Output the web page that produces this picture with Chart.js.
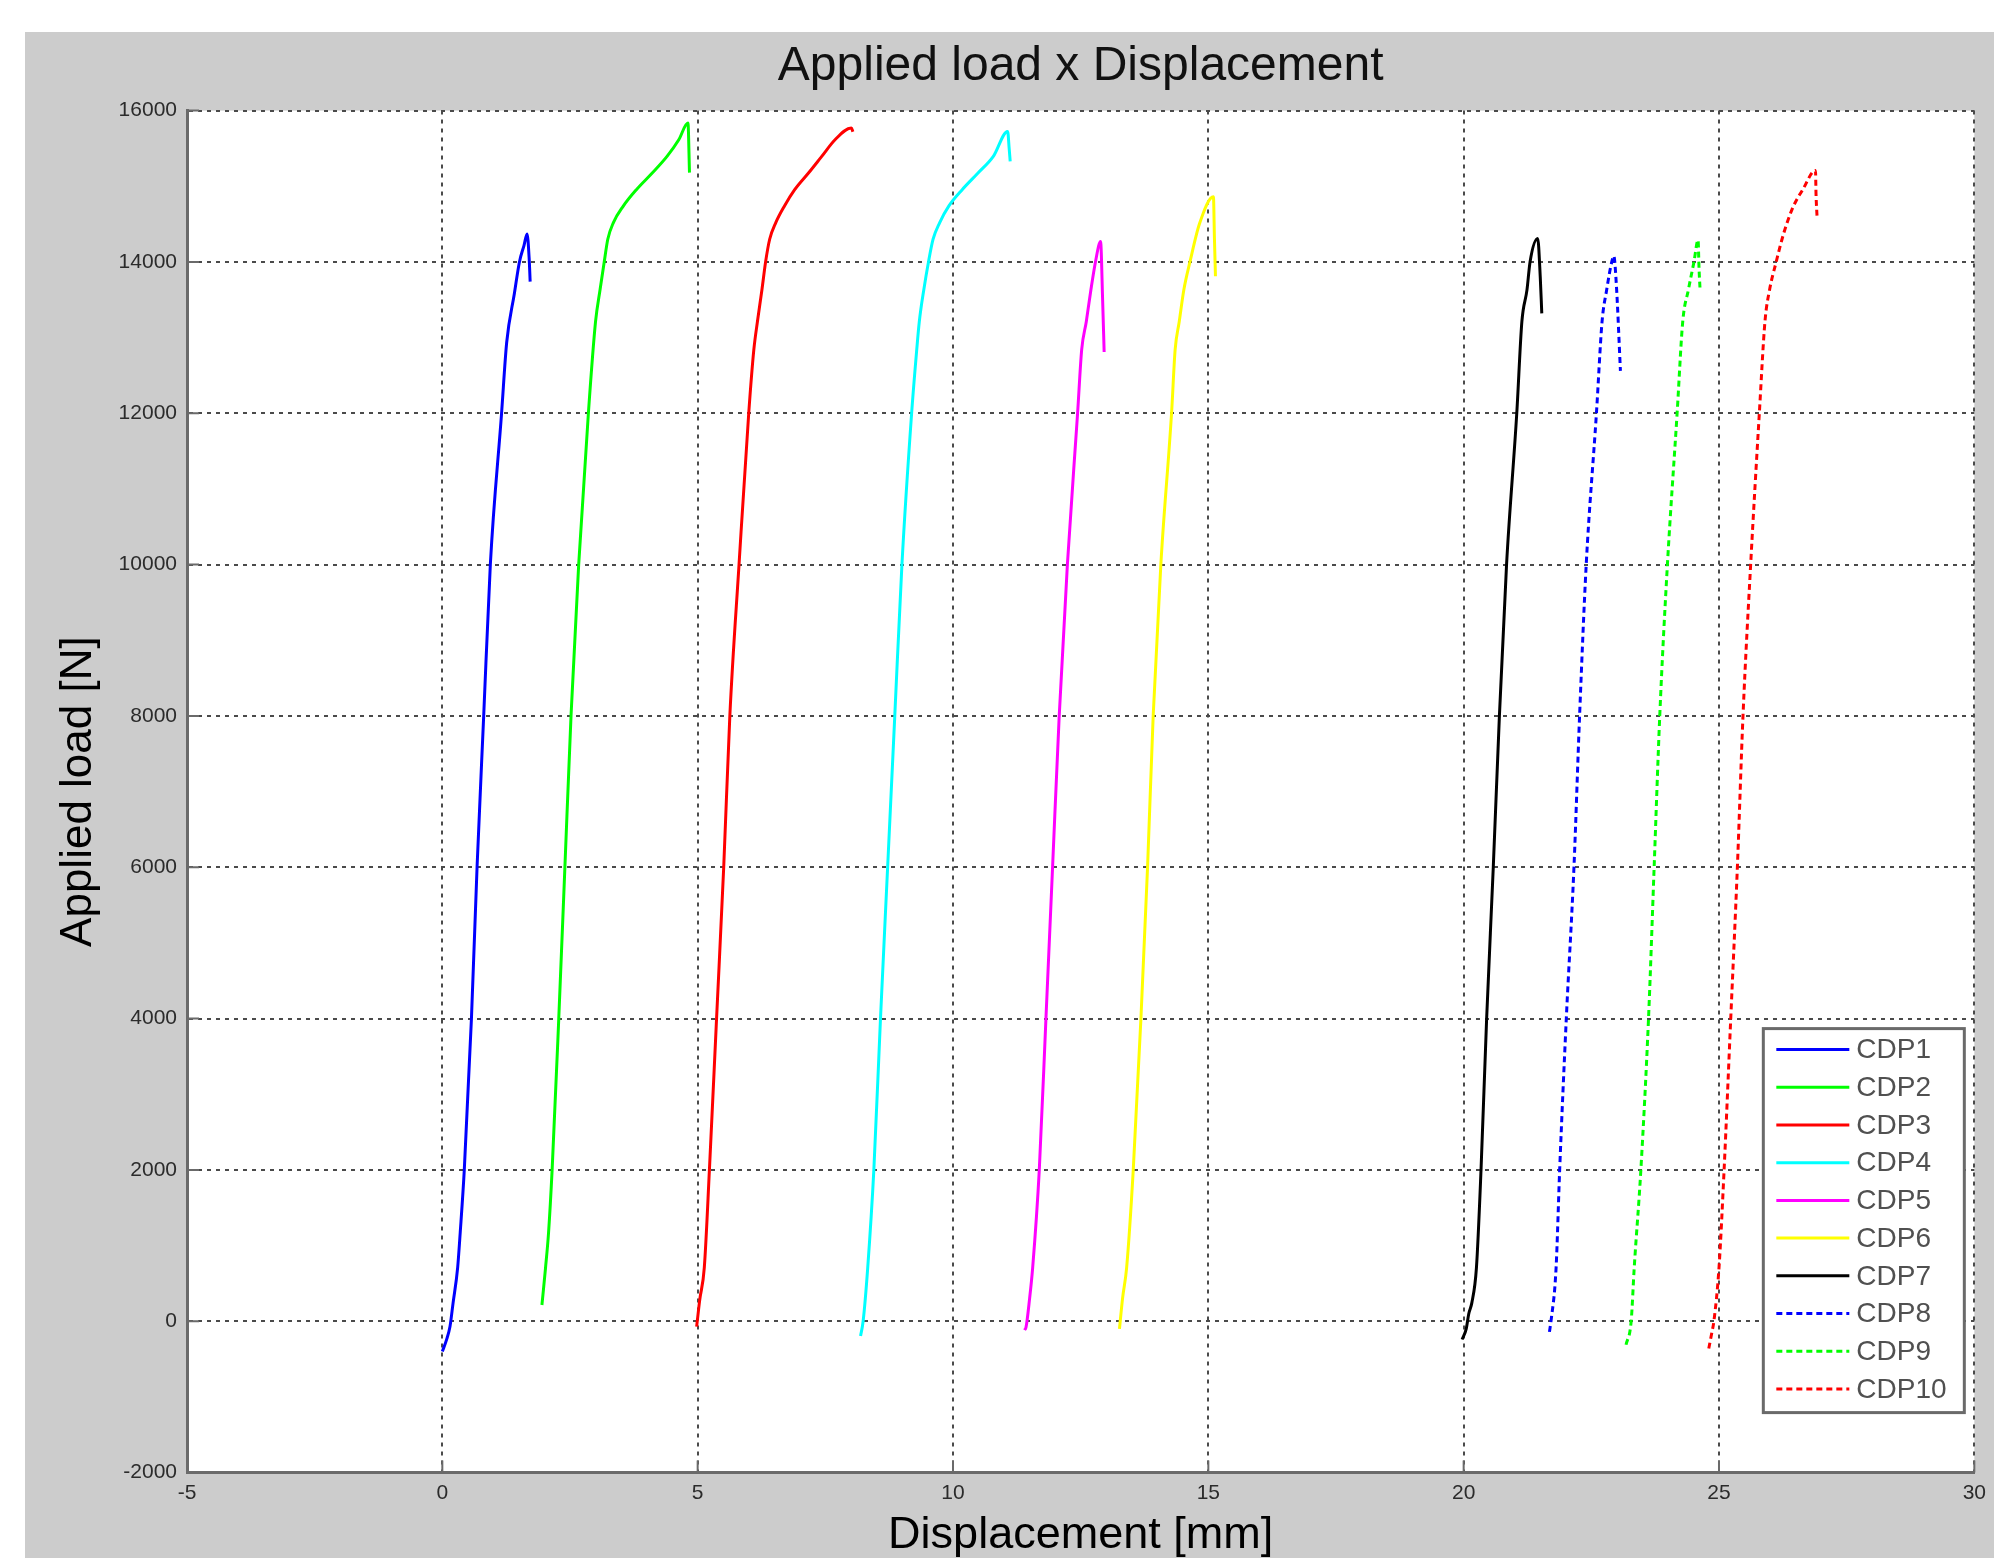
<!DOCTYPE html>
<html>
<head>
<meta charset="utf-8">
<title>Applied load x Displacement</title>
<script src="https://cdn.jsdelivr.net/npm/chart.js@4.4.1/dist/chart.umd.min.js"></script>
<style>
    html, body { margin: 0; padding: 0; background: #ffffff; }
    body { width: 1994px; height: 1558px; overflow: hidden; position: relative; }
    #wrap { position: absolute; left: 25px; top: 32px; width: 1969px; height: 1526px; background: #cccccc; }
</style>
</head>
<body>
<div id="wrap"><canvas id="myChart" width="1969" height="1526"></canvas></div>
<script>
// Ticks dos eixos
const xTicks = [-5, 0, 5, 10, 15, 20, 25, 30];
const yTicks = [-2000, 0, 2000, 4000, 6000, 8000, 10000, 12000, 14000, 16000];

// Séries (nome, cor, tracejado)
const seriesNames = ['CDP1', 'CDP2', 'CDP3', 'CDP4', 'CDP5', 'CDP6', 'CDP7', 'CDP8', 'CDP9', 'CDP10'];
const seriesColors = ['#0000ff', '#00ff00', '#ff0000', '#00ffff', '#ff00ff', '#ffff00', '#000000', '#0000ff', '#00ff00', '#ff0000'];
const seriesDashed = [false, false, false, false, false, false, false, true, true, true];

// Pontos [deslocamento mm, carga N]
const cdp1 = [[0.00,-400],[0.08,-250],[0.15,-70],[0.21,240],[0.30,710],[0.35,1170],[0.43,2000],[0.57,4000],[0.68,6000],[0.81,8000],[0.94,10000],[1.16,12000],[1.26,12935],[1.41,13580],[1.51,14000],[1.60,14220],[1.66,14370],[1.70,14050],[1.72,13740]];
const cdp2 = [[1.95,215],[1.97,350],[2.02,700],[2.08,1170],[2.15,2000],[2.28,4000],[2.40,6000],[2.52,8000],[2.67,10000],[2.86,12000],[3.00,13210],[3.09,13640],[3.17,14000],[3.24,14300],[3.35,14520],[3.54,14735],[3.80,14955],[4.11,15175],[4.40,15395],[4.63,15615],[4.81,15836],[4.84,15180]];
const cdp3 = [[4.98,-70],[5.04,280],[5.13,710],[5.23,2000],[5.37,4000],[5.51,6000],[5.63,8000],[5.81,10000],[6.00,12000],[6.10,12840],[6.17,13210],[6.26,13640],[6.33,14000],[6.41,14300],[6.53,14520],[6.70,14740],[6.90,14955],[7.17,15175],[7.43,15395],[7.69,15615],[8.01,15770],[8.04,15720]];
const cdp4 = [[8.19,-195],[8.24,0],[8.33,706],[8.45,2000],[8.58,4000],[8.72,6000],[8.86,8000],[9.00,10000],[9.19,12000],[9.29,12840],[9.34,13210],[9.43,13640],[9.52,14000],[9.61,14300],[9.74,14520],[9.92,14740],[10.18,14955],[10.49,15175],[10.79,15395],[11.07,15725],[11.10,15500],[11.12,15330]];
const cdp5 = [[11.40,-115],[11.43,-80],[11.50,300],[11.56,706],[11.69,2000],[11.82,4000],[11.95,6000],[12.08,8000],[12.24,10000],[12.44,12000],[12.52,12840],[12.61,13210],[12.70,13630],[12.79,14000],[12.89,14270],[12.93,13500],[12.96,12810]];
const cdp6 = [[13.26,-100],[13.32,300],[13.40,706],[13.53,2000],[13.68,4000],[13.81,6000],[13.92,8000],[14.07,10000],[14.28,12000],[14.35,12840],[14.43,13210],[14.52,13630],[14.64,14000],[14.83,14510],[15.10,14860],[15.12,14300],[15.14,13810]];
const cdp7 = [[19.97,-240],[20.05,-100],[20.10,100],[20.16,243],[20.25,706],[20.34,2000],[20.45,4000],[20.58,6000],[20.70,8000],[20.84,10000],[21.04,12000],[21.14,13210],[21.24,13630],[21.30,14000],[21.45,14310],[21.50,13800],[21.53,13320]];
const cdp8 = [[21.68,-140],[21.71,0],[21.81,706],[21.88,2000],[22.01,4000],[22.16,6000],[22.27,8000],[22.40,10000],[22.60,12000],[22.71,13210],[22.80,13630],[22.90,14000],[22.94,14080],[22.99,13700],[23.07,12560]];
const cdp9 = [[23.18,-310],[23.28,0],[23.34,706],[23.47,2000],[23.62,4000],[23.73,6000],[23.84,8000],[23.99,10000],[24.18,12000],[24.29,13210],[24.40,13630],[24.51,14000],[24.59,14290],[24.61,13900],[24.63,13630]];
const cdp10 = [[24.80,-360],[24.86,-150],[24.90,0],[25.00,706],[25.10,2000],[25.23,4000],[25.36,6000],[25.47,8000],[25.62,10000],[25.79,12000],[25.90,13210],[25.99,13630],[26.12,14000],[26.23,14290],[26.33,14510],[26.46,14740],[26.64,14955],[26.89,15210],[26.90,14900],[26.92,14600]];

const allSeries = [cdp1, cdp2, cdp3, cdp4, cdp5, cdp6, cdp7, cdp8, cdp9, cdp10];

Chart.defaults.font.family = "'Liberation Sans', Arial, sans-serif";

const datasets = allSeries.map((pts, i) => ({
    label: seriesNames[i],
    data: pts.map(p => ({ x: p[0], y: p[1] })),
    borderColor: seriesColors[i],
    backgroundColor: seriesColors[i],
    borderWidth: 3,
    borderDash: seriesDashed[i] ? [6, 4] : [],
    showLine: true,
    pointRadius: 0,
    fill: false,
    cubicInterpolationMode: 'monotone'
}));

// Fundo cinza + área do gráfico branca
const backgroundPlugin = {
    id: 'background',
    beforeDraw(chart) {
        const { ctx, chartArea: a } = chart;
        ctx.save();
        ctx.fillStyle = '#cccccc';
        ctx.fillRect(0, 0, chart.width, chart.height);
        ctx.fillStyle = '#ffffff';
        ctx.fillRect(a.left, a.top, a.right - a.left, a.bottom - a.top);
        ctx.restore();
    }
};

// Marcas de tick para dentro (estilo MATLAB)
const tickMarksPlugin = {
    id: 'tickMarks',
    beforeDatasetsDraw(chart) {
        const { ctx, chartArea: a, scales: { x, y } } = chart;
        ctx.save();
        ctx.strokeStyle = '#6a6a6a';
        ctx.lineWidth = 2;
        ctx.beginPath();
        xTicks.forEach(v => {
            const px = x.getPixelForValue(v);
            ctx.moveTo(px, a.bottom);
            ctx.lineTo(px, a.bottom - 12);
        });
        yTicks.forEach(v => {
            const py = y.getPixelForValue(v);
            ctx.moveTo(a.left, py);
            ctx.lineTo(a.left + 12, py);
        });
        ctx.stroke();
        ctx.restore();
    }
};

// Legenda com caixa no canto inferior direito
const legendBoxPlugin = {
    id: 'legendBox',
    afterDraw(chart) {
        const { ctx, chartArea: a } = chart;
        const w = 201, h = 384;
        const left = a.right - 10 - w;
        const top = a.bottom - 60 - h;
        ctx.save();
        ctx.fillStyle = '#ffffff';
        ctx.fillRect(left, top, w, h);
        ctx.strokeStyle = '#6a6a6a';
        ctx.lineWidth = 3;
        ctx.strokeRect(left, top, w, h);
        ctx.font = "28px 'Liberation Sans', Arial, sans-serif";
        ctx.textBaseline = 'middle';
        chart.data.datasets.forEach((ds, i) => {
            const cy = top + 21 + i * 37.7;
            ctx.strokeStyle = ds.borderColor;
            ctx.lineWidth = 3;
            ctx.setLineDash(ds.borderDash);
            ctx.beginPath();
            ctx.moveTo(left + 13, cy);
            ctx.lineTo(left + 86, cy);
            ctx.stroke();
            ctx.setLineDash([]);
            ctx.fillStyle = '#505050';
            ctx.fillText(ds.label, left + 93, cy + 1);
        });
        ctx.restore();
    }
};

const ctx = document.getElementById('myChart').getContext('2d');
new Chart(ctx, {
    type: 'scatter',
    data: { datasets: datasets },
    options: {
        responsive: false,
        animation: false,
        layout: { padding: { left: 0, right: 19, top: 0, bottom: 0 } },
        scales: {
            x: {
                type: 'linear',
                min: -5,
                max: 30,
                afterFit(s) { s.height = 85.4; },
                afterBuildTicks(s) { s.ticks = xTicks.map(v => ({ value: v })); },
                ticks: {
                    padding: 8,
                    color: '#2b2b2b',
                    font: { size: 21 },
                    maxRotation: 0,
                    autoSkip: false,
                    callback: v => String(v)
                },
                grid: { color: '#4a4a4a', lineWidth: 2, drawTicks: false },
                border: { display: true, color: '#6a6a6a', width: 3, dash: [4, 5] },
                title: {
                    display: true,
                    text: 'Displacement [mm]',
                    color: '#000000',
                    font: { size: 45, lineHeight: 1 },
                    padding: { top: 0, bottom: 0 }
                }
            },
            y: {
                type: 'linear',
                min: -2000,
                max: 16000,
                afterFit(s) { s.width = 162; },
                afterBuildTicks(s) { s.ticks = yTicks.map(v => ({ value: v })); },
                ticks: {
                    padding: 10,
                    color: '#2b2b2b',
                    font: { size: 21 },
                    autoSkip: false,
                    callback: v => String(v)
                },
                grid: { color: '#4a4a4a', lineWidth: 2, drawTicks: false },
                border: { display: true, color: '#6a6a6a', width: 3, dash: [4, 5] },
                title: {
                    display: true,
                    text: 'Applied load [N]',
                    color: '#000000',
                    font: { size: 44, lineHeight: 1 },
                    padding: { top: 32, bottom: 0 }
                }
            }
        },
        plugins: {
            legend: { display: false },
            tooltip: { enabled: false },
            title: {
                display: true,
                text: 'Applied load x Displacement',
                color: '#111111',
                fullSize: false,
                font: { size: 48, weight: 'normal' },
                padding: { top: 6, bottom: 15 }
            }
        }
    },
    plugins: [backgroundPlugin, tickMarksPlugin, legendBoxPlugin]
});
</script>
</body>
</html>
